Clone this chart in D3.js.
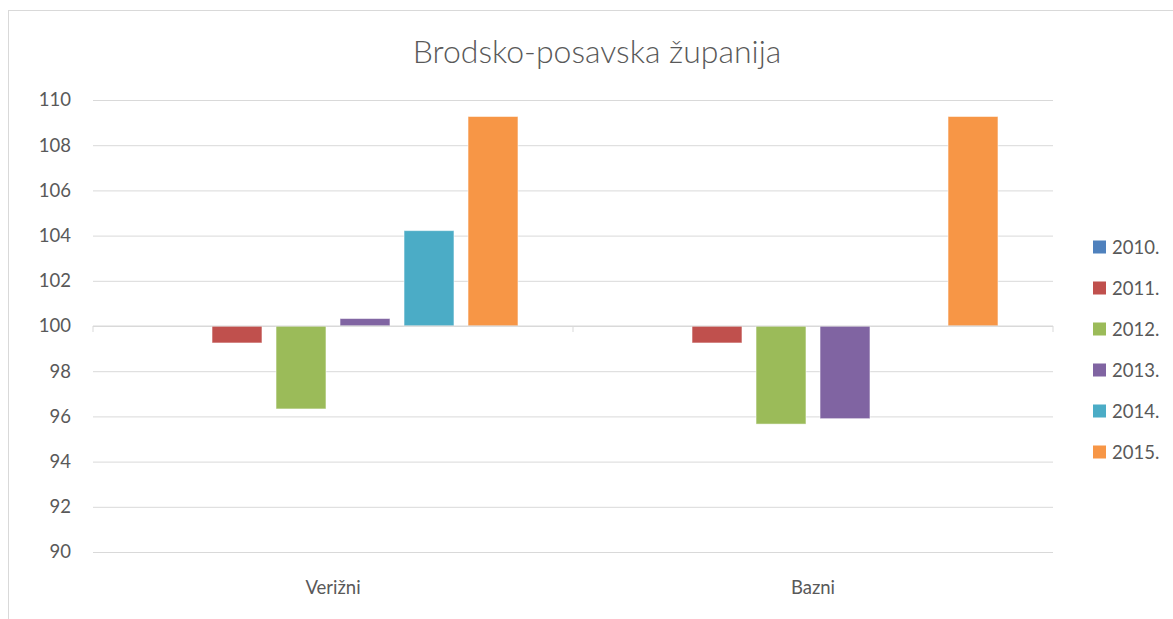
<!DOCTYPE html>
<html lang="hr">
<head>
<meta charset="utf-8">
<title>Brodsko-posavska županija</title>
<script src="https://d3js.org/d3.v7.min.js"></script>
<style>
  body { margin: 0; background: #fff; }
  text { font-family: Lato, "Open Sans", sans-serif; fill: #595959; }
</style>
</head>
<body>
<div id="chart"></div>
<script>
// data
const categories = ["Verižni", "Bazni"];
const years = ["2010.", "2011.", "2012.", "2013.", "2014.", "2015."];
const verizni = [100, 99.25, 96.33, 100.33, 104.22, 109.27];
const bazni = [100, 99.25, 95.66, 95.9, 100, 109.27];
const yTicks = [90, 92, 94, 96, 98, 100, 102, 104, 106, 108, 110];
const colors = ["#4F81BD", "#C0504D", "#9BBB59", "#8064A2", "#4BACC6", "#F79646"];

const W = 1173, H = 619;
const plot = {left: 93, right: 1053, top: 100, bottom: 552};

const svg = d3.select("#chart").append("svg")
  .attr("width", W).attr("height", H);

// chart frame
svg.append("rect")
  .attr("x", 8.5).attr("y", 10.5)
  .attr("width", W + 10).attr("height", H + 10)
  .attr("fill", "#fff").attr("stroke", "#d9d9d9");

// title
svg.append("text")
  .attr("x", 597).attr("y", 63)
  .attr("text-anchor", "middle")
  .style("font-size", "32px").style("font-weight", 300)
  .text("Brodsko-posavska županija");

const y = d3.scaleLinear().domain([90, 110]).range([plot.bottom, plot.top]);

const x0 = d3.scaleBand().domain(categories)
  .range([plot.left, plot.right])
  .paddingInner(0.2).paddingOuter(0.1);
const x1 = d3.scaleBand().domain(years)
  .range([0, x0.bandwidth()])
  .paddingInner(0.22).paddingOuter(0.11);

const color = d3.scaleOrdinal().domain(years).range(colors);

// gridlines + y labels
svg.append("g")
  .attr("transform", `translate(${plot.left},0)`)
  .call(d3.axisLeft(y).tickValues(yTicks).tickSize(-(plot.right - plot.left)).tickPadding(22))
  .call(g => g.select(".domain").remove())
  .call(g => g.selectAll(".tick line").attr("stroke", "#d9d9d9"))
  .call(g => g.selectAll(".tick text")
    .style("font-size", "18.5px").attr("fill", "#595959")
    .style("font-family", "Lato, 'Open Sans', sans-serif"));

// bars (from the 100 base line)
const rows = categories.map((c, i) => ({cat: c, vals: i === 0 ? verizni : bazni}));
svg.append("g").selectAll("g")
  .data(rows)
  .join("g")
    .attr("transform", d => `translate(${x0(d.cat)},0)`)
  .selectAll("rect")
  .data(d => d.vals.map((v, j) => ({year: years[j], value: v})).filter(d => d.value !== 100))
  .join("rect")
    .attr("x", d => x1(d.year))
    .attr("width", x1.bandwidth())
    .attr("y", d => y(Math.max(d.value, 100)))
    .attr("height", d => Math.abs(y(d.value) - y(100)))
    .attr("fill", d => color(d.year))
    .attr("stroke", "#fff").attr("stroke-opacity", 0.5);

// category axis at 100
const xAxisG = svg.append("g")
  .attr("transform", `translate(0,${y(100)})`);
xAxisG.append("line")
  .attr("x1", plot.left).attr("x2", plot.right)
  .attr("stroke", "#d9d9d9");
xAxisG.selectAll(".sep")
  .data([plot.left, x0(categories[1]) - x0.step() * x0.paddingInner() / 2, plot.right])
  .join("line")
    .attr("x1", d => d).attr("x2", d => d)
    .attr("y1", 0).attr("y2", 6)
    .attr("stroke", "#d9d9d9");

// category labels
svg.append("g").selectAll("text")
  .data(categories)
  .join("text")
    .attr("x", d => x0(d) + x0.bandwidth() / 2)
    .attr("y", 594)
    .attr("text-anchor", "middle")
    .style("font-size", "18.5px")
    .text(d => d);

// legend
const legend = svg.append("g").selectAll("g")
  .data(years)
  .join("g")
    .attr("transform", (d, i) => `translate(1093,${247 + i * 41})`);
legend.append("rect")
  .attr("x", 0).attr("y", -6.5)
  .attr("width", 13).attr("height", 13)
  .attr("fill", d => color(d));
legend.append("text")
  .attr("x", 19).attr("y", 6.5)
  .style("font-size", "18.5px")
  .text(d => d);
</script>
</body>
</html>
